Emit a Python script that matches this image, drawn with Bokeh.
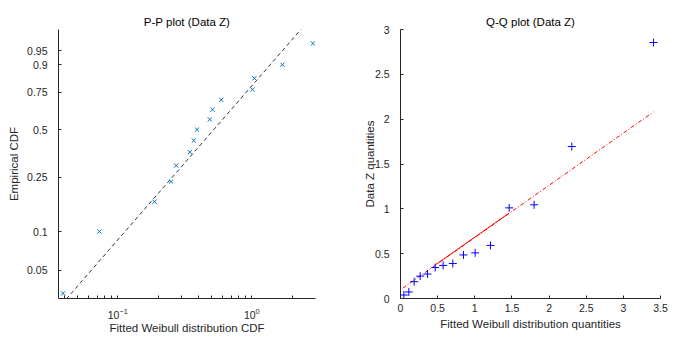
import numpy as np
from bokeh.plotting import figure
from bokeh.layouts import row
from bokeh.models import Range1d, FixedTicker, CustomJSTickFormatter, LogTickFormatter
from bokeh.embed import file_html
from bokeh.resources import INLINE

# ---- data ----
data_z = [0.039, 0.073, 0.188, 0.250, 0.273, 0.345, 0.369, 0.390, 0.486, 0.509,
          0.592, 1.011, 1.045, 1.695, 2.855]
empirical_cdf = [0.033, 0.100, 0.167, 0.233, 0.300, 0.367, 0.433, 0.500, 0.567,
                 0.633, 0.700, 0.767, 0.833, 0.900, 0.967]
fitted_quantiles = [0.045, 0.112, 0.184, 0.265, 0.363, 0.467, 0.574, 0.704, 0.848,
                    1.005, 1.211, 1.463, 1.799, 2.306, 3.406]
pp_ref_x = [0.0412, 2.35]
pp_ref_cdf = [0.0297, 0.9886]
qq_ref_x = [0.03, 3.406]
qq_ref_y = [0.115, 2.081]
qq_fit_x = [0.47, 1.46]
qq_fit_y = [0.376, 0.951]
pp_tick_labels = [0.05, 0.1, 0.25, 0.5, 0.75, 0.9, 0.95]
pp_x_major = [0.1, 1.0]
pp_x_minor = [0.04, 0.05, 0.06, 0.07, 0.08, 0.09,
              0.2, 0.3, 0.4, 0.5, 0.6, 0.7, 0.8, 0.9, 2.0, 3.0]
qq_x_ticks = [0, 0.5, 1, 1.5, 2, 2.5, 3, 3.5]
qq_y_ticks = [0, 0.5, 1, 1.5, 2, 2.5, 3]

FONT = "Liberation Sans"
AX = "#262626"
TICK_FS = "10.5px"
LABEL_FS = "11.5px"


def weib(p):
    p = np.asarray(p, dtype=float)
    return np.log(-np.log(1.0 - p))


def style_axis(ax, tick_in=3, minor_in=3):
    ax.axis_line_color = AX
    ax.major_tick_line_color = AX
    ax.minor_tick_line_color = AX
    ax.major_tick_in = tick_in
    ax.major_tick_out = 0
    ax.minor_tick_in = minor_in
    ax.minor_tick_out = 0
    ax.major_label_text_font = FONT
    ax.major_label_text_font_size = TICK_FS
    ax.major_label_text_color = AX
    ax.axis_label_text_font = FONT
    ax.axis_label_text_font_size = LABEL_FS
    ax.axis_label_text_font_style = "normal"
    ax.axis_label_text_color = AX


def style_title(p, text):
    p.title.text = text
    p.title.align = "center"
    p.title.text_font = FONT
    p.title.text_font_size = LABEL_FS
    p.title.text_font_style = "normal"
    p.title.text_color = "#000000"
    p.title.standoff = 3


# ---- P-P plot ----
p1 = figure(width=348, height=336, output_backend="svg", toolbar_location=None,
            x_axis_type="log",
            x_range=Range1d(0.0361, 2.99),
            y_range=Range1d(-3.4895, 1.4856),
            min_border_left=58, min_border_right=33,
            min_border_top=29, min_border_bottom=38)
p1.outline_line_color = None
p1.grid.visible = False
style_title(p1, "P-P plot (Data Z)")

p1.line(pp_ref_x, weib(pp_ref_cdf), line_color="#333333", line_width=1,
        line_dash="4 3")
p1.scatter(data_z, weib(empirical_cdf), marker="x", size=6,
           line_color="#0072BD", line_width=1)

p1.xaxis.ticker = FixedTicker(ticks=pp_x_major, minor_ticks=pp_x_minor)
p1.xaxis.formatter = LogTickFormatter()
p1.xaxis.axis_label = "Fitted Weibull distribution CDF"
p1.xaxis.major_label_standoff = 9
p1.xaxis.axis_label_standoff = 0
p1.yaxis.ticker = FixedTicker(ticks=[float(v) for v in weib(pp_tick_labels)])
p1.yaxis.formatter = CustomJSTickFormatter(
    code="const p = 1 - Math.exp(-Math.exp(tick)); return String(parseFloat(p.toFixed(2)));")
p1.yaxis.axis_label = "Empirical CDF"
p1.yaxis.major_label_standoff = 11
p1.yaxis.axis_label_standoff = 4
style_axis(p1.xaxis[0])
style_axis(p1.yaxis[0])

# ---- Q-Q plot ----
p2 = figure(width=322, height=336, output_backend="svg", toolbar_location=None,
            x_range=Range1d(0, 3.5), y_range=Range1d(0, 3),
            min_border_left=52, min_border_right=10,
            min_border_top=29, min_border_bottom=38)
p2.outline_line_color = None
p2.grid.visible = False
style_title(p2, "Q-Q plot (Data Z)")

p2.line(qq_ref_x, qq_ref_y, line_color="#FF0000", line_width=1,
        line_dash="4 2 1 2")
p2.line(qq_fit_x, qq_fit_y, line_color="#FF0000", line_width=1)
p2.scatter(fitted_quantiles, data_z, marker="cross", size=8,
           line_color="#0000FF", line_width=1)

fmt = "return String(Math.round(tick*100)/100);"
p2.xaxis.ticker = FixedTicker(ticks=qq_x_ticks)
p2.xaxis.formatter = CustomJSTickFormatter(code=fmt)
p2.xaxis.axis_label = "Fitted Weibull distribution quantities"
p2.xaxis.major_label_standoff = 5
p2.xaxis.axis_label_standoff = 3
p2.yaxis.ticker = FixedTicker(ticks=qq_y_ticks)
p2.yaxis.formatter = CustomJSTickFormatter(code=fmt)
p2.yaxis.axis_label = "Data Z quantities"
p2.yaxis.major_label_standoff = 11
p2.yaxis.axis_label_standoff = -4
style_axis(p2.xaxis[0])
style_axis(p2.yaxis[0])

layout = row(p1, p2)
open("out.html", "w").write(file_html(layout, INLINE))
